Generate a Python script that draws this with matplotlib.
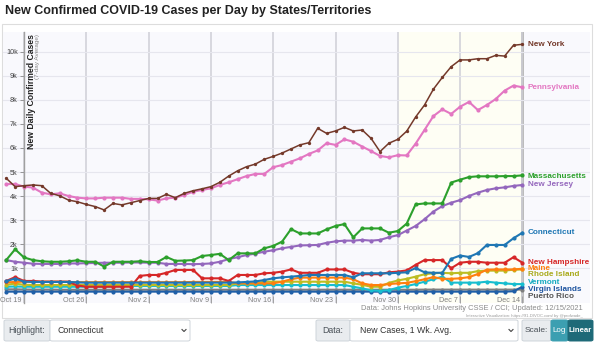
import matplotlib

matplotlib.use("Agg")
import matplotlib.pyplot as plt
import matplotlib.dates as mdates
import pandas as pd
from matplotlib.patches import FancyBboxPatch, Rectangle
from matplotlib.lines import Line2D
from matplotlib.transforms import ScaledTranslation

plt.rcParams["font.family"] = ["Liberation Sans", "DejaVu Sans"]

W, H = 600, 343

# ---- data (7-day avg new cases, Oct 17 .. Dec 14 2021) --------------------
dates = pd.date_range("2021-10-17", "2021-12-14", freq="D")

new_york = [4740, 4390, 4430, 4460, 4430, 4110, 4010, 3830, 3760, 3650, 3560, 3420,
            3690, 3630, 3720, 3810, 3900, 3900, 4070, 3930, 4110, 4220, 4300, 4390,
            4570, 4830, 5050, 5220, 5330, 5530, 5650, 5790, 5960, 6130, 6220, 6820,
            6610, 6710, 6860, 6710, 6750, 6400, 5850, 6200, 6360, 6700, 7290, 7790,
            8450, 8940, 9390, 9670, 9670, 9720, 9720, 9860, 9830, 10280, 10320]
pennsylvania = [4500, 4500, 4390, 4350, 4140, 4070, 4110, 4000, 3930, 3900, 3900, 3930,
                3930, 3930, 3880, 3880, 3860, 3810, 3900, 3930, 4040, 4180, 4250, 4320,
                4460, 4570, 4700, 4830, 4920, 4920, 5200, 5290, 5430, 5570, 5750, 5900,
                6200, 6130, 6360, 6260, 6060, 5870, 5670, 5610, 5700, 5690, 6180, 6750,
                7330, 7610, 7420, 7720, 7920, 7580, 7790, 8040, 8390, 8600, 8530]
massachusetts = [1330, 1780, 1440, 1330, 1280, 1260, 1260, 1280, 1320, 1260, 1260, 1060,
                 1260, 1260, 1260, 1280, 1250, 1250, 1460, 1300, 1310, 1330, 1500, 1540,
                 1590, 1330, 1610, 1610, 1610, 1820, 1920, 2100, 2620, 2440, 2440, 2440,
                 2610, 2750, 2830, 2280, 2650, 2650, 2650, 2470, 2540, 2850, 3650, 3690,
                 3690, 3690, 4560, 4680, 4790, 4820, 4820, 4820, 4830, 4830, 4860]
new_jersey = [1330, 1260, 1220, 1180, 1170, 1170, 1170, 1190, 1190, 1200, 1210, 1220,
              1220, 1220, 1230, 1230, 1220, 1220, 1170, 1170, 1170, 1160, 1170, 1190,
              1260, 1370, 1450, 1540, 1600, 1680, 1740, 1820, 1880, 1940, 1950, 1960,
              2050, 2110, 2140, 2140, 2170, 2140, 2170, 2280, 2370, 2560, 2750, 3030,
              3350, 3580, 3720, 3830, 4000, 4140, 4250, 4320, 4360, 4420, 4460]
connecticut = [450, 560, 430, 420, 420, 420, 420, 420, 400, 390, 390, 390,
               390, 390, 390, 390, 390, 390, 390, 390, 390, 390, 390, 390,
               390, 390, 400, 420, 440, 500, 570, 610, 640, 670, 710, 710,
               710, 710, 710, 610, 780, 780, 780, 780, 800, 820, 1000, 820,
               800, 800, 1380, 1520, 1460, 1620, 1960, 1960, 1960, 2240, 2470]
new_hampshire = [460, 620, 460, 460, 430, 430, 430, 430, 270, 220, 220, 220,
                 220, 220, 220, 670, 710, 710, 800, 920, 920, 920, 570, 570,
                 570, 460, 710, 710, 710, 780, 800, 850, 940, 800, 800, 800,
                 940, 940, 940, 800, 740, 740, 740, 820, 850, 900, 1130, 1330,
                 1330, 1330, 990, 1220, 1260, 1260, 1220, 1220, 1220, 1450, 1220]
maine = [400, 420, 430, 430, 430, 430, 430, 420, 410, 410, 410, 410,
         410, 410, 410, 410, 410, 410, 410, 410, 410, 420, 420, 420,
         420, 420, 360, 360, 360, 360, 360, 430, 530, 600, 600, 600,
         600, 600, 600, 530, 360, 290, 290, 330, 360, 380, 450, 530,
         620, 550, 550, 570, 620, 750, 930, 940, 940, 940, 970]
rhode_island = [300, 350, 300, 290, 290, 290, 290, 290, 290, 290, 290, 290,
                290, 290, 290, 290, 290, 290, 290, 290, 290, 290, 290, 290,
                290, 290, 360, 360, 360, 430, 430, 430, 430, 430, 430, 430,
                430, 430, 430, 360, 300, 220, 220, 380, 480, 550, 640, 740,
                780, 800, 780, 800, 800, 870, 890, 890, 890, 930, 940]
vermont = [220, 230, 220, 220, 220, 220, 220, 220, 220, 220, 220, 220,
           230, 240, 250, 250, 250, 250, 250, 250, 250, 250, 250, 250,
           250, 250, 290, 290, 290, 290, 290, 290, 290, 290, 290, 290,
           290, 290, 290, 220, 150, 70, 50, 80, 180, 250, 330, 430,
           530, 640, 390, 390, 390, 390, 430, 390, 360, 330, 330]
virgin_islands = [15, 15, 15, 15, 15, 15, 15, 15, 15, 15, 15, 15,
                  15, 15, 15, 15, 15, 15, 15, 15, 15, 15, 15, 15,
                  15, 15, 15, 15, 15, 15, 15, 15, 15, 15, 15, 15,
                  15, 15, 15, 15, 15, 15, 15, 15, 15, 15, 15, 15,
                  15, 15, 15, 15, 15, 15, 15, 15, 15, 30, 220]
puerto_rico = [110, 110, 105, 100, 100, 100, 95, 95, 95, 95, 95, 95,
               95, 95, 95, 95, 95, 95, 95, 95, 95, 95, 95, 95,
               95, 95, 95, 95, 95, 95, 95, 95, 95, 95, 95, 95,
               95, 95, 95, 95, 95, 95, 95, 95, 95, 95, 95, 100,
               100, 100, 100, 100, 100, 100, 100, 100, 100, 100, 100]

# name, values, line colour, label y (for de-cluttered end labels)
series = [
    ("Puerto Rico", puerto_rico, "#7f7f7f", -170),
    ("Virgin Islands", virgin_islands, "#1f5fa8", 120),
    ("Vermont", vermont, "#17becf", 380),
    ("Rhode Island", rhode_island, "#bcbd22", 740),
    ("Maine", maine, "#ff7f0e", 1000),
    ("New Hampshire", new_hampshire, "#d62728", 1230),
    ("New Jersey", new_jersey, "#9467bd", 4460),
    ("Massachusetts", massachusetts, "#2ca02c", 4830),
    ("Pennsylvania", pennsylvania, "#e377c2", 8540),
    ("New York", new_york, "#74392a", 10330),
    ("Connecticut", connecticut, "#1f77b4", 2500),
]
label_colors = {"Puerto Rico": "#555555", "Rhode Island": "#a9aa1c",
                "Virgin Islands": "#1f55a0", "Vermont": "#15aac0"}

week_ticks = pd.date_range("2021-10-19", "2021-12-14", freq="7D")


def fx(x):
    return x / W


def fy(y):
    return 1 - y / H


fig = plt.figure(figsize=(W / 100, H / 100), dpi=100)

# title
title = fig.text(fx(5), fy(11), "New Confirmed COVID-19 Cases per Day by States/Territories",
                 ha="left", va="center", fontsize=11, fontweight="bold", color="#222222")
fig.canvas.draw()
tw = title.get_window_extent().width
title.set_fontsize(11 * 367 / tw)

# outer panel
fig.add_artist(Rectangle((fx(2), fy(318)), fx(590), (318 - 24) / H, transform=fig.transFigure,
                         fc="white", ec="#dddddd", lw=0.8, zorder=0))

# ---- plot area ------------------------------------------------------------
ax = fig.add_axes([fx(3), fy(303), fx(587), (303 - 32) / H])
ax.set_facecolor("#f9f9fd")
x0 = mdates.date2num(week_ticks[0])
ax.set_xlim(x0 - 21 / 8.9, x0 + 566 / 8.9)
ax.set_ylim(-458, 10833)
for s in ["top", "right", "bottom"]:
    ax.spines[s].set_visible(False)
ax.spines["left"].set_position(("data", x0))
ax.spines["left"].set_color("#a0a0a0")
ax.spines["left"].set_linewidth(1.0)

ax.set_yticks(range(1000, 10001, 1000))
ax.set_yticklabels([f"{k}k" for k in range(1, 11)])
ax.tick_params(axis="y", length=3, width=0.6, color="#888888", labelsize=5.2,
               labelcolor="#444444", pad=1.5)
ax.grid(axis="y", color="#e6e6ee", lw=0.8, zorder=0)

ax.set_xticks(week_ticks)
ax.set_xticklabels([d.strftime("%b %-d") for d in week_ticks])
ax.tick_params(axis="x", direction="in", length=5, width=0.6, color="#999999",
               labelsize=5.2, labelcolor="#808080", pad=0)
for lbl in ax.get_xticklabels():
    lbl.set_ha("right")
    lbl.set_transform(lbl.get_transform() + ScaledTranslation(-1.5 / 72, 4.5 / 72, fig.dpi_scale_trans))
ax.grid(axis="x", color="#cfcfd6", lw=1.1, zorder=0)

ax.axvspan(pd.Timestamp("2021-11-30"), dates[-1], color="#fefef4", zorder=0.5, lw=0)
ax.axvline(dates[-1], color="#b5b5b5", lw=2.0, zorder=1)

for name, vals, col, ly in series:
    lw = 1.1 if name == "New York" else 1.5
    ms = 2.4 if name == "New York" else 3.0
    ax.plot(dates, vals, color=col, lw=lw, marker="o", ms=ms, mew=0, zorder=3)
    ax.text(dates[-1] + pd.Timedelta(hours=14), ly, name, ha="left", va="center",
            fontsize=5.9, fontweight="bold", color=label_colors.get(name, col), zorder=4,
            clip_on=False)

fig.text(fx(31), fy(34), "New Daily Confirmed Cases", rotation=90, ha="center", va="top",
         fontsize=6.2, fontweight="bold", color="#222222")
fig.text(fx(38), fy(34), "(7-day Average)", rotation=90, ha="center", va="top",
         fontsize=4.6, color="#888888")

# ---- footnote -------------------------------------------------------------
fig.text(fx(583), fy(309), "Data: Johns Hopkins University CSSE / CCI; Updated: 12/15/2021",
         ha="right", va="center", fontsize=5.4, color="#8a8a8a")
fig.text(fx(583), fy(315.5), "Interactive Visualization: https://91-DIVOC.com/ by @profwade_",
         ha="right", va="center", fontsize=3.0, color="#9a9a9a")


# ---- controls -------------------------------------------------------------
def ctl(x_a, x_b, fc, ec="#ced4da"):
    fig.add_artist(FancyBboxPatch((fx(x_a), fy(341)), fx(x_b - x_a), 21 / H,
                                  boxstyle="round,pad=0,rounding_size=0.004",
                                  transform=fig.transFigure, fc=fc, ec=ec, lw=0.7))


def chevron(x, y):
    fig.add_artist(Line2D([fx(x - 2), fx(x), fx(x + 2)], [fy(y - 1), fy(y + 1), fy(y - 1)],
                          transform=fig.transFigure, color="#444444", lw=0.8))


ctl(4, 50, "#e9ecef")
fig.text(fx(27), fy(330.5), "Highlight:", ha="center", va="center", fontsize=6.3, color="#495057")
ctl(50, 190, "white")
fig.text(fx(58), fy(330.5), "Connecticut", ha="left", va="center", fontsize=6.3, color="#333333")
chevron(184, 330.5)

ctl(316, 350, "#e9ecef")
fig.text(fx(333), fy(330.5), "Data:", ha="center", va="center", fontsize=6.3, color="#495057")
ctl(350, 518, "white")
fig.text(fx(360), fy(330.5), "New Cases, 1 Wk. Avg.", ha="left", va="center", fontsize=6.3,
         color="#333333")
chevron(511, 330.5)

ctl(522, 551, "#e9ecef")
fig.text(fx(536.5), fy(330.5), "Scale:", ha="center", va="center", fontsize=6.0, color="#495057")
ctl(551, 568, "#3c9fb1", ec="#3c9fb1")
fig.text(fx(559.5), fy(330.5), "Log", ha="center", va="center", fontsize=5.8, color="white")
ctl(568, 593, "#1e6a78", ec="#1e6a78")
fig.text(fx(580.5), fy(330.5), "Linear", ha="center", va="center", fontsize=5.6,
         fontweight="bold", color="white")

fig.savefig("out.png", dpi=100, facecolor="white")
